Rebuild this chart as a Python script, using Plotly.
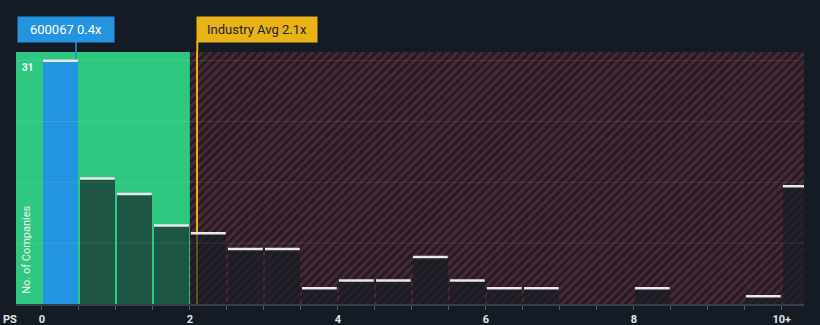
import plotly.graph_objects as go

# ---- data ----
bin_start = [0.0, 0.5, 1.0, 1.5, 2.0, 2.5, 3.0, 3.5, 4.0, 4.5, 5.0, 5.5, 6.0, 6.5, 8.0, 9.5, 10.0]
counts = [31, 16, 14, 10, 9, 7, 7, 2, 3, 3, 6, 3, 2, 2, 2, 1, 15]
company_label = "600067 0.4x"
company_value = 0.4
industry_label = "Industry Avg 2.1x"
industry_avg = 2.1
tick_vals = [0, 2, 4, 6, 8, 10]
tick_text = ["0", "2", "4", "6", "8", "10+"]
y_gridvals = [7.75, 15.5, 23.25, 31]

BIN = 0.5
XMIN, XMAX = -0.35, 10.3
YMAX = 32.1
BG = "#151b24"
GREEN = "#2ec880"
BLUE = "#2394df"
GOLD = "#e9b217"
FONT = "Roboto"

fig = go.Figure()

# hatched "above average" region
fig.add_trace(go.Bar(
    x=[(2.0 + XMAX + 0.2) / 2], y=[YMAX], width=[XMAX + 0.2 - 2.0],
    marker=dict(color="#1c1f29",
                pattern=dict(shape="/", fgcolor="#8a2e39", bgcolor="#1b1e28",
                             size=6, solidity=0.5),
                line=dict(width=0)),
    hoverinfo="skip", showlegend=False))

# industry average line (under the bars)
fig.add_trace(go.Bar(
    x=[industry_avg], y=[YMAX], width=[0.028],
    marker=dict(color=GOLD, line=dict(width=0)),
    hoverinfo="skip", showlegend=False))

# histogram bars
centers = [s + BIN / 2 for s in bin_start]
colors = []
for s in bin_start:
    if s <= company_value < s + BIN:
        colors.append(BLUE)
    else:
        colors.append("rgba(21,27,36,0.66)")
fig.add_trace(go.Bar(
    x=centers, y=counts, width=[0.47] * len(centers),
    marker=dict(color=colors, line=dict(width=0)),
    hoverinfo="skip", showlegend=False))

# white caps on top of each bar
cx, cy = [], []
for s, c in zip(bin_start, counts):
    cx += [s + 0.015, s + BIN - 0.015, None]
    cy += [c, c, None]
fig.add_trace(go.Scatter(
    x=cx, y=cy, mode="lines", line=dict(color="#e8e8e8", width=2.5),
    hoverinfo="skip", showlegend=False, cliponaxis=True))

shapes = [
    # green "below average" region
    dict(type="rect", xref="x", yref="y", x0=XMIN, x1=2.0, y0=0, y1=YMAX,
         fillcolor=GREEN, line=dict(width=0), layer="below"),
    # gold line above plot area
    dict(type="line", xref="x", yref="paper", x0=industry_avg, x1=industry_avg,
         y0=1.0, y1=1.045, line=dict(color=GOLD, width=2)),
    # blue pointer line
    dict(type="line", xref="x", yref="paper", x0=company_value + 0.06, x1=company_value + 0.06,
         y0=0.97, y1=1.045, line=dict(color=BLUE, width=1.5)),
]
for g in y_gridvals:
    shapes.append(dict(type="line", xref="paper", yref="y", x0=0, x1=1, y0=g, y1=g,
                       line=dict(color="rgba(255,255,255,0.09)", width=1), layer="above"))

fig.update_layout(
    width=820, height=325,
    margin=dict(l=16, r=16, t=52, b=21),
    paper_bgcolor=BG, plot_bgcolor=BG,
    barmode="overlay", bargap=0,
    showlegend=False,
    font=dict(family=FONT, color="#e6e6e6"),
    shapes=shapes,
    xaxis=dict(range=[XMIN, XMAX], showgrid=False, zeroline=False, automargin=False,
               tickvals=[i * 0.5 for i in range(21)],
               ticktext=[(tick_text[tick_vals.index(int(i * 0.5))] if (i % 4 == 0) else "") for i in range(21)],
               ticks="outside", ticklen=4, tickcolor="#555b66", tickwidth=1,
               showline=True, linecolor="#3a404a", linewidth=2,
               tickfont=dict(family=FONT, size=11, color="#e6e6e6", weight="bold")),
    yaxis=dict(range=[0, YMAX], showgrid=False, zeroline=False, showticklabels=False,
               ticks="", automargin=False),
    annotations=[
        dict(text="PS", xref="paper", yref="paper", x=-0.008, y=-0.06,
             xanchor="center", yanchor="middle", showarrow=False,
             font=dict(size=11, color="#e6e6e6", family=FONT, weight="bold")),
        dict(text="31", xref="paper", yref="paper", x=0.014, y=0.937,
             xanchor="center", yanchor="middle", showarrow=False,
             font=dict(size=10, color="#ffffff", family=FONT, weight="bold")),
        dict(text="No. of Companies", xref="paper", yref="paper", x=0.014, y=0.215,
             xanchor="center", yanchor="middle", showarrow=False, textangle=-90,
             font=dict(size=11, color="#f0f0f0", family=FONT)),
        dict(text=company_label, xref="paper", yref="paper", x=(17 - 16) / 788, y=(304 - 16) / 252,
             xanchor="left", yanchor="top", showarrow=False, bgcolor=BLUE,
             width=90, height=19, borderpad=3, align="center",
             font=dict(size=13, color="#ffffff", family=FONT)),
        dict(text=industry_label, xref="x", yref="paper", x=industry_avg - 0.02, y=(304 - 16) / 252,
             xanchor="left", yanchor="top", showarrow=False, bgcolor=GOLD,
             width=114, height=19, borderpad=3, align="center",
             font=dict(size=13, color="#1e2430", family=FONT)),
    ],
)

fig.write_html("out.html")
